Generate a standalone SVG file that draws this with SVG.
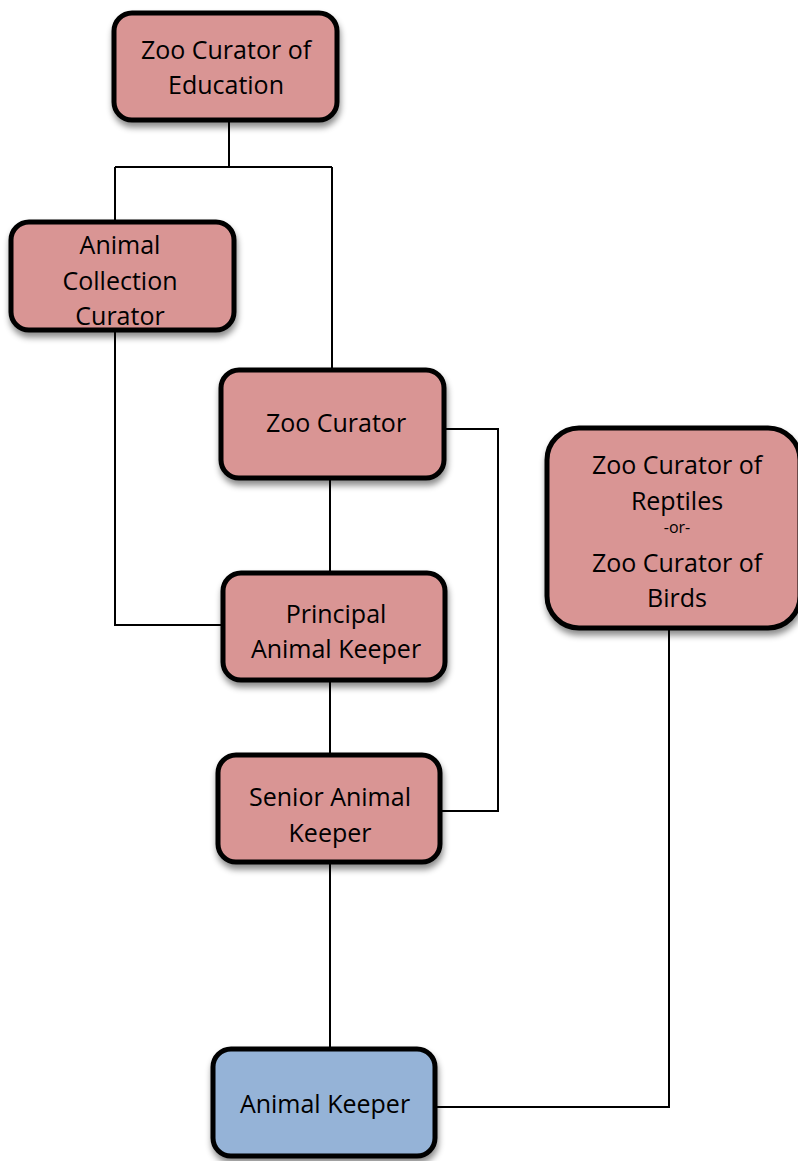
<svg xmlns="http://www.w3.org/2000/svg" width="798" height="1161" viewBox="0 0 798 1161">
<style>
.box{fill:#D99594;stroke:#000;stroke-width:5;filter:url(#sh)}
.blue{fill:#95B3D7}
.t{font-family:"Open Sans","Liberation Sans",sans-serif;font-size:25px;fill:#000;text-anchor:middle}
.s{font-size:16px}
.c{fill:none;stroke:#000;stroke-width:2}
</style>
<defs>
<filter id="sh" x="-10%" y="-10%" width="130%" height="140%">
<feDropShadow dx="1" dy="5" stdDeviation="3" flood-color="#000" flood-opacity="0.45"/>
</filter>
</defs>
<g id="connectors">
<path class="c" d="M229 121V167M115 167H332M115 167V221M332 167V369"/>
<path class="c" d="M115 332V625H222"/>
<path class="c" d="M330 479V572"/>
<path class="c" d="M330 680V754"/>
<path class="c" d="M445 429H498V811H441"/>
<path class="c" d="M330 863V1048"/>
<path class="c" d="M669 629V1107H436"/>
</g>
<g id="n1"><rect class="box" x="114" y="13" width="223" height="107" rx="18"/>
<text class="t" x="226" y="59">Zoo Curator of</text><text class="t" x="226" y="94">Education</text></g>
<g id="n2"><rect class="box" x="11" y="222" width="223" height="108" rx="18"/>
<text class="t" x="120" y="254">Animal</text><text class="t" x="120" y="290">Collection</text><text class="t" x="120" y="325">Curator</text></g>
<g id="n3"><rect class="box" x="221" y="370" width="223" height="108" rx="18"/>
<text class="t" x="336" y="432">Zoo Curator</text></g>
<g id="n4"><rect class="box" x="547" y="428" width="253" height="200" rx="32"/>
<text class="t" x="677" y="474">Zoo Curator of</text><text class="t" x="677" y="510">Reptiles</text><text class="t s" x="677" y="533">-or-</text><text class="t" x="677" y="572">Zoo Curator of</text><text class="t" x="677" y="607">Birds</text></g>
<g id="n5"><rect class="box" x="223" y="573" width="222" height="107" rx="18"/>
<text class="t" x="336" y="623">Principal</text><text class="t" x="336" y="658">Animal Keeper</text></g>
<g id="n6"><rect class="box" x="218" y="755" width="222" height="107" rx="18"/>
<text class="t" x="330" y="806">Senior Animal</text><text class="t" x="330" y="842">Keeper</text></g>
<g id="n7"><rect class="box blue" x="213" y="1049" width="222" height="107" rx="18"/>
<text class="t" x="325" y="1113">Animal Keeper</text></g>
</svg>
